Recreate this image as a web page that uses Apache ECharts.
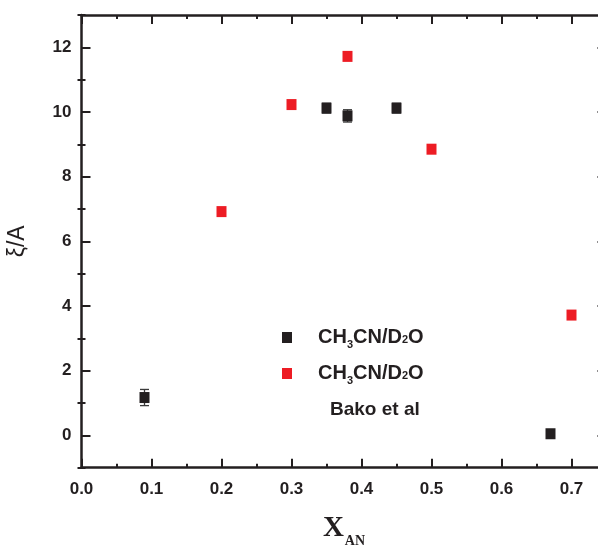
<!DOCTYPE html>
<html>
<head>
<meta charset="utf-8">
<script src="https://cdn.jsdelivr.net/npm/echarts@6/dist/echarts.min.js"></script>
<style>
html,body{margin:0;padding:0;background:#fff;}
#chart{width:598px;height:549px;}
</style>
</head>
<body>
<div id="chart"></div>
<script>
// Data
const blackX = [0.09, 0.35, 0.38, 0.45, 0.67];
const blackY = [1.17, 10.12, 9.88, 10.12, 0.05];
const blackErr = [0.25, 0.15, 0.19, 0.15, 0];
const redX = [0.2, 0.3, 0.38, 0.5, 0.7];
const redY = [6.92, 10.23, 11.72, 8.85, 3.72];
const yMajorTicks = [0, 2, 4, 6, 8, 10, 12];
const yMinorTicks = [-1, 1, 3, 5, 7, 9, 11, 13];

const BLACK = '#231f20';
const RED = '#ed1c24';
const FONT = '"Liberation Sans", Arial, sans-serif';

const blackData = blackX.map((x, i) => [x, blackY[i]]);
const redData = redX.map((x, i) => [x, redY[i]]);
const errData = blackX.map((x, i) => [x, blackY[i], blackErr[i]]);

const chart = echarts.init(document.getElementById('chart'), null, {renderer: 'canvas'});

const axisLine = {show: true, onZero: false, lineStyle: {color: BLACK, width: 2.5}};
const majorTick = {show: true, inside: true, length: 9, lineStyle: {color: BLACK, width: 2}};
const minorTick = {show: true, splitNumber: 2, length: 4, lineStyle: {color: BLACK, width: 2}};

const xBase = {type: 'value', min: 0, max: 0.75, interval: 0.1, splitLine: {show: false}};

const option = {
  animation: false,
  backgroundColor: '#fff',
  grid: {left: 81.5, top: 15, width: 525, height: 452.7, containLabel: false, outerBoundsMode: 'none'},
  xAxis: [
    Object.assign({}, xBase, {
      position: 'bottom',
      axisLine: axisLine,
      axisTick: majorTick,
      minorTick: minorTick,
      axisLabel: {show: true, margin: 13, color: BLACK, fontSize: 17, fontWeight: 'bold', fontFamily: FONT,
        showMaxLabel: false, formatter: v => v.toFixed(1)},
      name: '{x|X}{s|AN}',
      nameLocation: 'middle',
      nameGap: 46,
      nameTextStyle: {
        rich: {
          x: {fontFamily: '"Liberation Serif", "Times New Roman", serif', fontWeight: 'bold', fontSize: 29, color: BLACK, lineHeight: 30},
          s: {fontFamily: '"Liberation Serif", "Times New Roman", serif', fontWeight: 'bold', fontSize: 14, color: BLACK, lineHeight: 14, padding: [26, 0, 0, 1]}
        }
      }
    }),
    Object.assign({}, xBase, {
      position: 'top',
      axisLine: axisLine,
      axisTick: majorTick,
      minorTick: minorTick,
      axisLabel: {show: false}
    })
  ],
  yAxis: [
    {
      type: 'value', min: -1, max: 13, position: 'left', splitLine: {show: false},
      axisLine: axisLine,
      axisTick: Object.assign({customValues: yMajorTicks}, majorTick),
      axisLabel: {show: true, customValues: yMajorTicks, margin: 10, color: BLACK, fontSize: 17, fontWeight: 'bold', fontFamily: FONT},
      name: 'ξ/A',
      nameLocation: 'middle',
      nameGap: 52,
      nameRotate: 90,
      nameTextStyle: {fontFamily: FONT, fontSize: 23, color: BLACK}
    },
    {
      type: 'value', min: -1, max: 13, position: 'left', splitLine: {show: false},
      axisLine: {show: false},
      axisTick: {show: true, inside: true, length: 4, customValues: yMinorTicks, lineStyle: {color: BLACK, width: 2}},
      axisLabel: {show: false}
    },
    {
      type: 'value', min: -1, max: 13, position: 'right', splitLine: {show: false},
      axisLine: axisLine,
      axisTick: Object.assign({customValues: yMajorTicks}, majorTick),
      axisLabel: {show: false}
    },
    {
      type: 'value', min: -1, max: 13, position: 'right', splitLine: {show: false},
      axisLine: {show: false},
      axisTick: {show: true, inside: true, length: 4, customValues: yMinorTicks, lineStyle: {color: BLACK, width: 2}},
      axisLabel: {show: false}
    }
  ],
  legend: {
    orient: 'vertical',
    left: 277,
    top: 320,
    itemWidth: 10,
    itemHeight: 11,
    itemGap: 11,
    selectedMode: false,
    data: [{name: 'black', icon: 'rect'}, {name: 'red', icon: 'rect'}],
    formatter: () => '{p|}{t|CH}{s|3}{t|CN/D}{u|2}{t|O}',
    textStyle: {
      rich: {
        p: {width: 21, lineHeight: 22},
        t: {fontFamily: FONT, fontWeight: 'bold', fontSize: 20, color: BLACK, lineHeight: 22},
        s: {fontFamily: FONT, fontWeight: 'bold', fontSize: 11, color: BLACK, lineHeight: 11, padding: [14, 0, 0, 0]},
        u: {fontFamily: FONT, fontWeight: 'bold', fontSize: 11, color: BLACK, lineHeight: 11, padding: [5, 0, 0, 0]}
      }
    }
  },
  graphic: [
    {type: 'text', left: 330, top: 400, style: {text: 'Bako et al', fontFamily: FONT, fontWeight: 'bold', fontSize: 19, fill: BLACK}}
  ],
  series: [
    {
      type: 'custom',
      name: 'err',
      xAxisIndex: 0, yAxisIndex: 0,
      data: errData,
      clip: false,
      z: 1,
      renderItem: function (params, api) {
        const x = api.value(0), y = api.value(1), e = api.value(2);
        if (!e) return null;
        const top = api.coord([x, y + e]);
        const bot = api.coord([x, y - e]);
        const hw = 4.5;
        const st = {stroke: '#3a3a3a', lineWidth: 1.3};
        return {type: 'group', children: [
          {type: 'line', shape: {x1: top[0], y1: top[1], x2: bot[0], y2: bot[1]}, style: st},
          {type: 'line', shape: {x1: top[0] - hw, y1: top[1], x2: top[0] + hw, y2: top[1]}, style: st},
          {type: 'line', shape: {x1: bot[0] - hw, y1: bot[1], x2: bot[0] + hw, y2: bot[1]}, style: st}
        ]};
      }
    },
    {
      type: 'scatter', name: 'black', xAxisIndex: 0, yAxisIndex: 0,
      data: blackData, symbol: 'rect', symbolSize: [10, 11], z: 3,
      itemStyle: {color: BLACK, opacity: 1}
    },
    {
      type: 'scatter', name: 'red', xAxisIndex: 0, yAxisIndex: 0,
      data: redData, symbol: 'rect', symbolSize: [10, 11], z: 3,
      itemStyle: {color: RED, opacity: 1}
    }
  ]
};
chart.setOption(option);
</script>
</body>
</html>
